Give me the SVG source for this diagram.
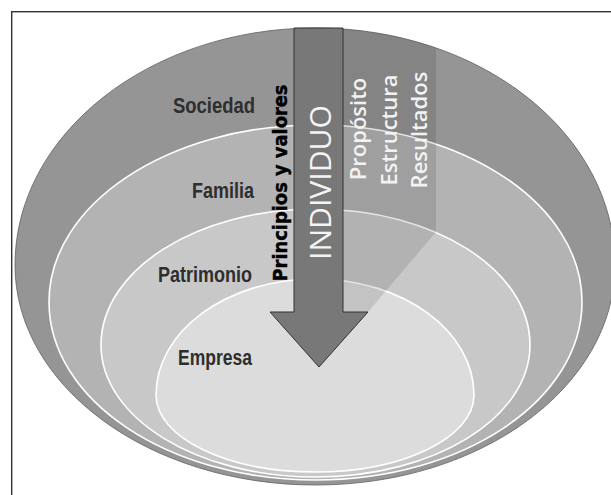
<svg xmlns="http://www.w3.org/2000/svg" width="611" height="495" viewBox="0 0 611 495">
<style>
.ring{stroke:#ffffff;stroke-width:1.6}
.lbl{font-family:"Liberation Sans Narrow","Liberation Sans",Arial,sans-serif;font-weight:bold;font-size:22px;fill:#2e2e2e;text-anchor:end}
.side{font-family:"Open Sans","DejaVu Sans",sans-serif;font-weight:600;font-size:22px;fill:#f2f2f2;text-anchor:middle}
</style>
<defs>
<clipPath id="outerClip">
<path d="M15,265 C15,134.1 149.8,28 315.5,28 C481.2,28 615,134.1 615,265 C615,386.5 481.2,485 315.5,485 C149.8,485 15,386.5 15,265Z"/>
</clipPath>
</defs>
<rect x="0" y="0" width="611" height="495" fill="#ffffff"/>
<rect x="11.7" y="11.7" width="640" height="520" fill="none" stroke="#333333" stroke-width="1.4"/>

<g id="sociedad">
<path d="M15,265 C15,134.1 149.8,28 315.5,28 C481.2,28 615,134.1 615,265 C615,386.5 481.2,485 315.5,485 C149.8,485 15,386.5 15,265Z" fill="#959595" stroke="#6a6a6a" stroke-width="0.9"/>
<text class="lbl" x="255" y="113" textLength="82" lengthAdjust="spacingAndGlyphs">Sociedad</text>
</g>
<g id="familia">
<path class="ring" d="M49,302 C49,204.2 168.3,125 315.5,125 C462.7,125 582,204.2 582,302 C582,400.3 462.7,480 315.5,480 C168.3,480 49,400.3 49,302Z" fill="#b3b3b3"/>
<text class="lbl" x="254" y="198" textLength="62" lengthAdjust="spacingAndGlyphs">Familia</text>
</g>
<g id="patrimonio">
<path class="ring" d="M101,345 C101,269.9 197,209 315.5,209 C434,209 530,269.9 530,345 C530,417.9 434,477 315.5,477 C197,477 101,417.9 101,345Z" fill="#c8c8c8"/>
<text class="lbl" x="252" y="282" textLength="94" lengthAdjust="spacingAndGlyphs">Patrimonio</text>
</g>
<g id="empresa">
<path class="ring" d="M156,395 C156,330.9 227.2,279 315,279 C402.8,279 474,330.9 474,395 C474,437.5 402.8,472 315,472 C227.2,472 156,437.5 156,395Z" fill="#dcdcdc"/>
<text class="lbl" x="252" y="365" textLength="74" lengthAdjust="spacingAndGlyphs">Empresa</text>
</g>

<g id="proceso" clip-path="url(#outerClip)">
<polygon points="343,20 436,20 436,232 368,312 343,312" fill="#000000" fill-opacity="0.11"/>
</g>

<g id="individuo">
<polygon points="294,28 343,28 343,312 368,312 319,367 270,312 294,312" fill="#787878" stroke="#333333" stroke-width="1"/>
<text transform="translate(331,182.5) rotate(-90)" font-family="'Open Sans','DejaVu Sans',sans-serif" font-size="30" fill="#f4f4f4" text-anchor="middle" textLength="155" lengthAdjust="spacingAndGlyphs">INDIVIDUO</text>
</g>

<g id="principios">
<text transform="translate(287,183) rotate(-90)" font-family="'DejaVu Sans',Verdana,sans-serif" font-weight="bold" font-size="19.5" fill="#000000" stroke="#000000" stroke-width="0.4" text-anchor="middle" textLength="197" lengthAdjust="spacingAndGlyphs">Principios y valores</text>
</g>

<g id="propositos">
<text class="side" transform="translate(366,129) rotate(-90)">Propósito</text>
<text class="side" transform="translate(397,130) rotate(-90)">Estructura</text>
<text class="side" transform="translate(427,130) rotate(-90)">Resultados</text>
</g>
</svg>
